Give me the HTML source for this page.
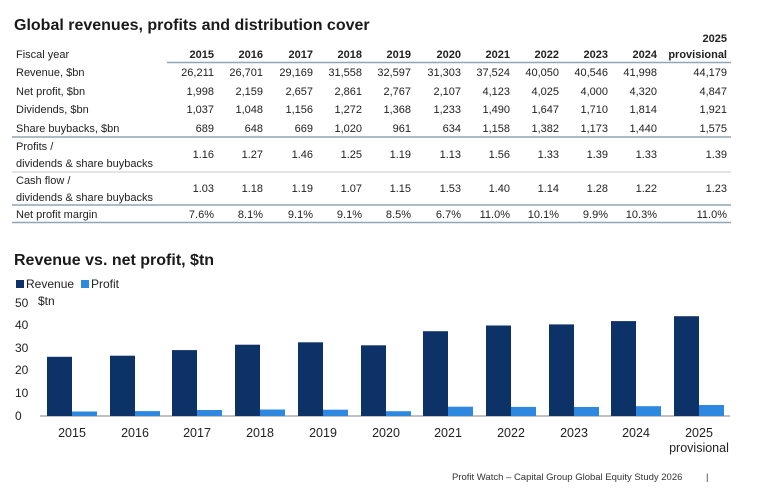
<!DOCTYPE html>
<html><head><meta charset="utf-8"><style>
html,body{margin:0;padding:0;background:#fff;}
svg{display:block;font-family:"Liberation Sans",Arial,sans-serif;}
</style></head><body>
<svg width="770" height="499" viewBox="0 0 770 499" xmlns="http://www.w3.org/2000/svg">
<text x="14" y="30" font-size="16" font-weight="bold" fill="#1a1a1a">Global revenues, profits and distribution cover</text>
<g font-size="11" fill="#222">
<text x="16" y="58">Fiscal year</text>
<g font-weight="bold" text-anchor="end">
<text x="214" y="58">2015</text><text x="263" y="58">2016</text><text x="313" y="58">2017</text><text x="362" y="58">2018</text><text x="411" y="58">2019</text><text x="461" y="58">2020</text><text x="510" y="58">2021</text><text x="559" y="58">2022</text><text x="608" y="58">2023</text><text x="657" y="58">2024</text><text x="727" y="42">2025</text><text x="727" y="58">provisional</text>
</g>
<line x1="167" y1="62.5" x2="731" y2="62.5" stroke="#8fa6b4" stroke-width="1.5"/>
<text x="16" y="76">Revenue, $bn</text>
<text x="16" y="95">Net profit, $bn</text>
<text x="16" y="113">Dividends, $bn</text>
<text x="16" y="132">Share buybacks, $bn</text>
<g text-anchor="end">
<g transform="translate(0,76)"><text x="214">26,211</text><text x="263">26,701</text><text x="313">29,169</text><text x="362">31,558</text><text x="411">32,597</text><text x="461">31,303</text><text x="510">37,524</text><text x="559">40,050</text><text x="608">40,546</text><text x="657">41,998</text><text x="727">44,179</text></g>
<g transform="translate(0,95)"><text x="214">1,998</text><text x="263">2,159</text><text x="313">2,657</text><text x="362">2,861</text><text x="411">2,767</text><text x="461">2,107</text><text x="510">4,123</text><text x="559">4,025</text><text x="608">4,000</text><text x="657">4,320</text><text x="727">4,847</text></g>
<g transform="translate(0,113)"><text x="214">1,037</text><text x="263">1,048</text><text x="313">1,156</text><text x="362">1,272</text><text x="411">1,368</text><text x="461">1,233</text><text x="510">1,490</text><text x="559">1,647</text><text x="608">1,710</text><text x="657">1,814</text><text x="727">1,921</text></g>
<g transform="translate(0,132)"><text x="214">689</text><text x="263">648</text><text x="313">669</text><text x="362">1,020</text><text x="411">961</text><text x="461">634</text><text x="510">1,158</text><text x="559">1,382</text><text x="608">1,173</text><text x="657">1,440</text><text x="727">1,575</text></g>
<g transform="translate(0,158)"><text x="214">1.16</text><text x="263">1.27</text><text x="313">1.46</text><text x="362">1.25</text><text x="411">1.19</text><text x="461">1.13</text><text x="510">1.56</text><text x="559">1.33</text><text x="608">1.39</text><text x="657">1.33</text><text x="727">1.39</text></g>
<g transform="translate(0,192)"><text x="214">1.03</text><text x="263">1.18</text><text x="313">1.19</text><text x="362">1.07</text><text x="411">1.15</text><text x="461">1.53</text><text x="510">1.40</text><text x="559">1.14</text><text x="608">1.28</text><text x="657">1.22</text><text x="727">1.23</text></g>
<g transform="translate(0,218)"><text x="214">7.6%</text><text x="263">8.1%</text><text x="313">9.1%</text><text x="362">9.1%</text><text x="411">8.5%</text><text x="461">6.7%</text><text x="510">11.0%</text><text x="559">10.1%</text><text x="608">9.9%</text><text x="657">10.3%</text><text x="727">11.0%</text></g>
</g>
<line x1="12" y1="137" x2="731" y2="137" stroke="#8fa6b4" stroke-width="1.5"/>
<text x="16" y="150">Profits /</text>
<text x="16" y="167">dividends &amp; share buybacks</text>
<line x1="12" y1="172" x2="731" y2="172" stroke="#dcdcdc" stroke-width="1.5"/>
<text x="16" y="184">Cash flow /</text>
<text x="16" y="201">dividends &amp; share buybacks</text>
<line x1="12" y1="205" x2="731" y2="205" stroke="#8fa6b4" stroke-width="1.5"/>
<text x="16" y="218">Net profit margin</text>
<line x1="12" y1="222.5" x2="731" y2="222.5" stroke="#8fa6b4" stroke-width="1.5"/>
</g>
<text x="14" y="265" font-size="16" font-weight="bold" fill="#1a1a1a">Revenue vs. net profit, $tn</text>
<rect x="16" y="280" width="8" height="8" fill="#0d3268"/>
<text x="26" y="288" font-size="12" fill="#222">Revenue</text>
<rect x="81" y="280" width="8" height="8" fill="#2f88e0"/>
<text x="91" y="288" font-size="12" fill="#222">Profit</text>
<g font-size="12" fill="#222">
<text x="15" y="307">50</text><text x="38" y="305">$tn</text>
<text x="15" y="329">40</text><text x="15" y="352">30</text><text x="15" y="374">20</text><text x="15" y="397">10</text><text x="15" y="420">0</text>
</g>
<line x1="40" y1="416" x2="730" y2="416" stroke="#c0c0c0" stroke-width="2"/>
<g font-size="12.5" fill="#222" text-anchor="middle">
<text x="72" y="437">2015</text><text x="135" y="437">2016</text><text x="197" y="437">2017</text><text x="260" y="437">2018</text><text x="323" y="437">2019</text><text x="386" y="437">2020</text><text x="448" y="437">2021</text><text x="511" y="437">2022</text><text x="574" y="437">2023</text><text x="636" y="437">2024</text><text x="699" y="437">2025</text><text x="699" y="452">provisional</text>
</g>
<text x="452" y="480" font-size="9.5" fill="#333">Profit Watch – Capital Group Global Equity Study 2026</text>
<text x="706" y="480" font-size="9.5" fill="#333">|</text>
<g>
<rect x="47" y="356.8" width="25" height="59.2" fill="#0d3268"/><rect x="72" y="411.5" width="25" height="4.5" fill="#2f88e0"/>
<rect x="110" y="355.7" width="25" height="60.3" fill="#0d3268"/><rect x="135" y="411.1" width="25" height="4.9" fill="#2f88e0"/>
<rect x="172" y="350.1" width="25" height="65.9" fill="#0d3268"/><rect x="197" y="410" width="25" height="6" fill="#2f88e0"/>
<rect x="235" y="344.7" width="25" height="71.3" fill="#0d3268"/><rect x="260" y="409.5" width="25" height="6.5" fill="#2f88e0"/>
<rect x="298" y="342.3" width="25" height="73.7" fill="#0d3268"/><rect x="323" y="409.7" width="25" height="6.3" fill="#2f88e0"/>
<rect x="361" y="345.3" width="25" height="70.7" fill="#0d3268"/><rect x="386" y="411.2" width="25" height="4.8" fill="#2f88e0"/>
<rect x="423" y="331.2" width="25" height="84.8" fill="#0d3268"/><rect x="448" y="406.7" width="25" height="9.3" fill="#2f88e0"/>
<rect x="486" y="325.5" width="25" height="90.5" fill="#0d3268"/><rect x="511" y="406.9" width="25" height="9.1" fill="#2f88e0"/>
<rect x="549" y="324.4" width="25" height="91.6" fill="#0d3268"/><rect x="574" y="407" width="25" height="9" fill="#2f88e0"/>
<rect x="611" y="321.1" width="25" height="94.9" fill="#0d3268"/><rect x="636" y="406.2" width="25" height="9.8" fill="#2f88e0"/>
<rect x="674" y="316.2" width="25" height="99.8" fill="#0d3268"/><rect x="699" y="405" width="25" height="11" fill="#2f88e0"/>
</g>
</svg>
</body></html>
